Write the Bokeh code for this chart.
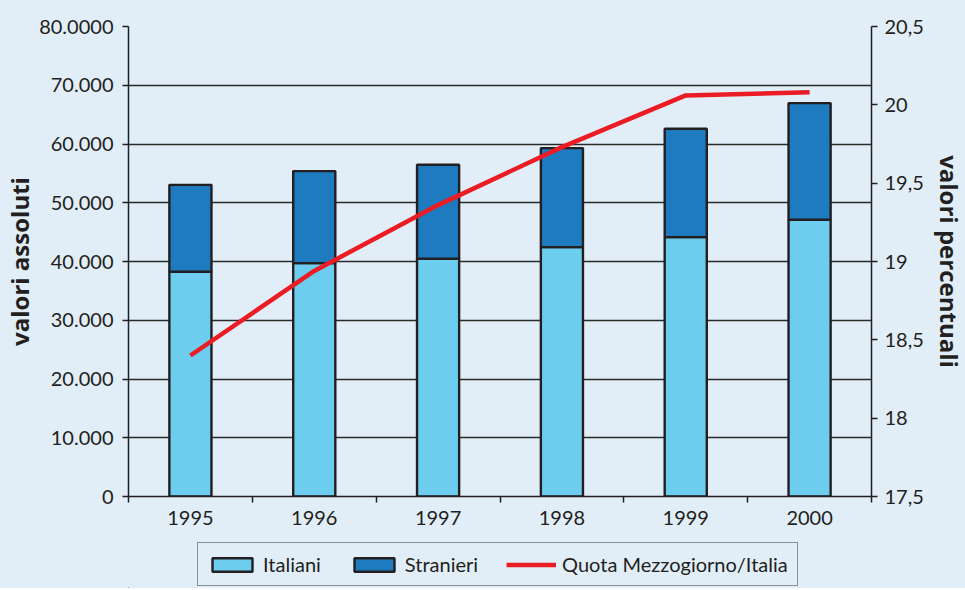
from bokeh.plotting import figure
from bokeh.layouts import column
from bokeh.models import (Range1d, LinearAxis, FixedTicker, Legend, LegendItem,
                          ColumnDataSource)
from bokeh.embed import file_html
from bokeh.resources import INLINE

# ---- data ----
years = [1995, 1996, 1997, 1998, 1999, 2000]
year_labels = ["1995", "1996", "1997", "1998", "1999", "2000"]
italiani = [38250, 39730, 40460, 42450, 44150, 47100]
stranieri = [14800, 15660, 16000, 16850, 18440, 19860]
quota = [18.40, 18.94, 19.36, 19.73, 20.06, 20.08]
series_names = ["Italiani", "Stranieri", "Quota Mezzogiorno/Italia"]

left_ticks = [0, 10000, 20000, 30000, 40000, 50000, 60000, 70000, 80000]
left_labels = ["0", "10.000", "20.000", "30.000", "40.000", "50.000",
               "60.000", "70.000", "80.0000"]
right_ticks = [17.5, 18.0, 18.5, 19.0, 19.5, 20.0, 20.5]
right_labels = ["17,5", "18", "18,5", "19", "19,5", "20", "20,5"]

# ---- style ----
BG = "#e1eef7"
C_IT = "#6dcdee"
C_ST = "#1e7bbf"
C_RED = "#ec1c24"
C_EDGE = "#231f20"
FONT = "Lato"
TFONT = "Open Sans"

totals = [a + b for a, b in zip(italiani, stranieri)]
src = ColumnDataSource(dict(x=years, it=italiani, tot=totals, q=quota))

p = figure(frame_width=743, frame_height=470, output_backend="svg",
           toolbar_location=None,
           x_range=Range1d(years[0] - 0.5, years[-1] + 0.5),
           y_range=Range1d(left_ticks[0], left_ticks[-1]),
           min_border_left=121, min_border_top=26, min_border_right=10,
           min_border_bottom=38)
p.background_fill_color = BG
p.border_fill_color = BG
p.outline_line_color = None
p.extra_y_ranges = {"pct": Range1d(right_ticks[0], right_ticks[-1])}

bar_style = dict(width=0.34, line_color=C_EDGE, line_width=2.4)
p.vbar(x="x", bottom=0, top="it", source=src, fill_color=C_IT, **bar_style)
p.vbar(x="x", bottom="it", top="tot", source=src, fill_color=C_ST, **bar_style)
line_style = dict(line_color=C_RED, line_width=4.5, line_join="round")
p.line(x="x", y="q", source=src, y_range_name="pct", **line_style)

# x axis
xa = p.xaxis[0]
xa.ticker = FixedTicker(ticks=years,
                        minor_ticks=[y - 0.5 for y in years] + [years[-1] + 0.5])
xa.major_label_overrides = {y: l for y, l in zip(years, year_labels)}
xa.major_tick_out = 0
xa.major_tick_in = 0
xa.minor_tick_out = 6
xa.minor_tick_in = 0
xa.minor_tick_line_color = C_EDGE
xa.minor_tick_line_width = 1.5
xa.major_label_standoff = 8

# left axis
ya = p.yaxis[0]
ya.ticker = FixedTicker(ticks=left_ticks, minor_ticks=[])
ya.major_label_overrides = {t: l for t, l in zip(left_ticks, left_labels)}
ya.axis_label = "valori assoluti"

# right axis
ra = LinearAxis(y_range_name="pct",
                ticker=FixedTicker(ticks=right_ticks, minor_ticks=[]))
ra.major_label_overrides = {t: l for t, l in zip(right_ticks, right_labels)}
ra.axis_label = "valori percentuali"
p.add_layout(ra, "right")

for ax in [xa, ya, ra]:
    ax.axis_line_color = C_EDGE
    ax.axis_line_width = 1.5
    ax.major_tick_line_color = C_EDGE
    ax.major_tick_line_width = 1.5
    ax.major_label_text_font = FONT
    ax.major_label_text_font_size = "20px"
    ax.major_label_text_color = C_EDGE
    ax.axis_label_text_font = TFONT
    ax.axis_label_text_font_size = "24px"
    ax.axis_label_text_font_style = "bold"
    ax.axis_label_text_color = C_EDGE
for ax in [ya, ra]:
    ax.major_tick_out = 6
    ax.major_tick_in = 0
ya.major_label_standoff = 9
ya.axis_label_standoff = 0
ra.major_label_standoff = 7
ra.axis_label_standoff = 6

p.xgrid.visible = False
p.ygrid.ticker = FixedTicker(ticks=left_ticks, minor_ticks=[])
p.ygrid.grid_line_color = "#2a2a2a"
p.ygrid.grid_line_width = 1.4

# ---- legend strip (separate figure below the chart, frame aligned) ----
lg = figure(frame_width=743, frame_height=54, output_backend="svg",
            toolbar_location=None, x_axis_type=None, y_axis_type=None,
            x_range=Range1d(0, 1), y_range=Range1d(0, 1),
            min_border_left=121, min_border_right=10,
            min_border_top=0, min_border_bottom=0)
lg.background_fill_color = BG
lg.background_fill_alpha = 0
lg.border_fill_color = BG
lg.border_fill_alpha = 0
lg.outline_line_color = None
lg.xgrid.visible = False
lg.ygrid.visible = False
# off-screen key renderers (only their styles are shown in the legend)
key_src = ColumnDataSource(dict(x=[-100], b=[0], t=[0]))
k_it = lg.vbar(x="x", bottom="b", top="t", source=key_src, fill_color=C_IT, **bar_style)
k_st = lg.vbar(x="x", bottom="b", top="t", source=key_src, fill_color=C_ST, **bar_style)
k_q = lg.line(x="x", y="t", source=key_src, **line_style)

legend = Legend(items=[LegendItem(label=n, renderers=[r])
                       for n, r in zip(series_names, [k_it, k_st, k_q])],
                orientation="horizontal", location=(69, 2))
legend.background_fill_color = BG
legend.background_fill_alpha = 1
legend.border_line_color = "#333333"
legend.border_line_width = 1.5
legend.label_text_font = FONT
legend.label_text_font_size = "20px"
legend.label_text_color = C_EDGE
legend.glyph_width = 50
legend.glyph_height = 17
legend.label_standoff = 6
legend.spacing = 28
legend.padding = 9
legend.margin = 0
lg.add_layout(legend, "center")

layout = column(p, lg, spacing=0)
layout.styles = {"background-color": BG}
html = file_html(layout, INLINE)
html = html.replace("<body>", '<body style="background-color:%s;">' % BG, 1)
open("out.html", "w").write(html)
